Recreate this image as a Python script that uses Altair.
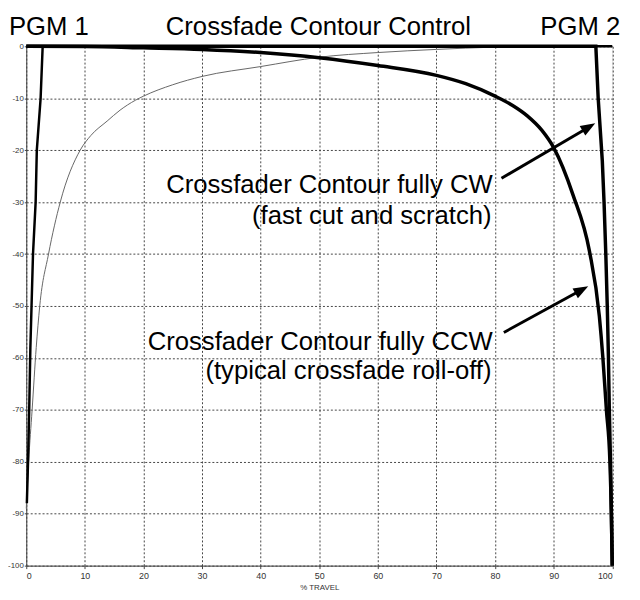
import altair as alt
import pandas as pd

# ---- data ----
cw1_x = [0.1, 0.3, 0.5, 0.7, 0.9, 1.15, 1.6, 1.8, 2.45, 2.8, 100]
cw1_y = [-88, -80, -70, -58, -50, -40, -30, -20, -10, 0, 0]

cw2_x = [0, 97.2, 97.6, 98.3, 98.6, 98.9, 99.15, 99.35, 99.5, 99.7, 99.85, 100]
cw2_y = [0, 0, -10, -22, -30, -40, -50, -60, -70, -80, -90, -100]

ccw1_x = [0, 0.4, 1.0, 1.7, 2.3, 3.8, 5.8, 9.2, 11, 13.8, 16, 18.6, 20, 25, 30, 40, 50, 60, 70, 75, 80, 85, 100]
ccw1_y = [-89, -80, -70, -58, -50, -40, -30, -20, -17.2, -14.4, -12.3, -10.4, -9.6, -7.4, -5.8, -3.9, -2.1, -1.2, -0.6, -0.35, -0.15, 0, 0]

ccw2_x = [0, 10, 20, 30, 40, 50, 60, 70, 75, 80, 83, 85.5, 88, 90, 93.3, 96.1, 97.8, 98.4, 99.0, 99.6, 99.85, 100]
ccw2_y = [0, -0.05, -0.3, -0.6, -1.2, -2.2, -3.7, -5.6, -7.2, -9.6, -11.4, -13.4, -16.2, -19.5, -28.6, -39.4, -52, -60, -70, -80, -90, -100]

x_ticks = list(range(0, 101, 10))
y_ticks = list(range(-100, 1, 10))

# headers (data coordinates)
head_text = ["PGM 1", "Crossfade Contour Control", "PGM 2"]
head_x = [-2.95, 49.85, 101.35]
head_y = [2.15, 2.15, 2.15]
head_align = ["left", "center", "right"]

ann_text = ["Crossfader Contour fully CW", "(fast cut and scratch)",
            "Crossfader Contour fully CCW", "(typical crossfade roll-off)"]
ann_x = [79.6, 79.4, 79.6, 79.4]
ann_y = [-28.3, -34.2, -58.4, -64.0]

arr_x1 = [81.1, 81.5]
arr_y1 = [-25.4, -55.1]
arr_x2 = [95.4, 94.1]
arr_y2 = [-15.96, -47.3]
tip_x = [97.1, 95.9]
tip_y = [-14.8, -46.2]
tip_angle = [329.4, 331.3]

FONT = "Liberation Sans"

xs = alt.Scale(domain=[0, 100], nice=False, zero=False)
ys = alt.Scale(domain=[-100, 0], nice=False, zero=False)

x_axis = alt.Axis(values=x_ticks, grid=True, gridDash=[2, 2], gridColor="#444",
                  gridOpacity=1, domainColor="#444", tickColor="#444", tickSize=3,
                  labelFontSize=9, labelColor="#333", labelFont=FONT, labelPadding=3,
                  title="% TRAVEL", titleFontSize=8, titleFontWeight="normal",
                  titleFont=FONT, titleColor="#333", titlePadding=3)
y_axis = alt.Axis(values=y_ticks, grid=True, gridDash=[2, 2], gridColor="#444",
                  gridOpacity=1, domainColor="#444", tickColor="#444", tickSize=2,
                  labelFontSize=8, labelColor="#333", labelFont=FONT, labelPadding=1,
                  labelExpr="'' + datum.value", title=None)

X = alt.X("x:Q", scale=xs, axis=x_axis, title="% TRAVEL")
Y = alt.Y("y:Q", scale=ys, axis=y_axis, title=None)


def series(xv, yv):
    return pd.DataFrame({"x": xv, "y": yv, "i": range(len(xv))})


def line(xv, yv, color, width, interp="linear"):
    return alt.Chart(series(xv, yv)).mark_line(
        color=color, strokeWidth=width, interpolate=interp).encode(
        x=X, y=Y, order="i:Q")


l_ccw1 = line(ccw1_x, ccw1_y, "#666", 1, "monotone")
l_cw1 = line(cw1_x, cw1_y, "#000", 2.5)
l_cw2 = line(cw2_x, cw2_y, "#000", 3.5)
l_ccw2 = line(ccw2_x, ccw2_y, "#000", 3.5, "monotone")

heads = alt.Chart(pd.DataFrame({"t": head_text, "x": head_x, "y": head_y, "a": head_align}))
head_layers = []
for a in ["left", "center", "right"]:
    head_layers.append(
        heads.transform_filter(alt.datum.a == a).mark_text(
            align=a, baseline="alphabetic", font=FONT, fontSize=26, color="#000").encode(
            x=X, y=Y, text="t:N"))

ann = alt.Chart(pd.DataFrame({"t": ann_text, "x": ann_x, "y": ann_y})).mark_text(
    align="right", baseline="alphabetic", font=FONT, fontSize=26, color="#000").encode(
    x=X, y=Y, text="t:N")

arrows = alt.Chart(pd.DataFrame({"x": arr_x1, "y": arr_y1, "x2": arr_x2, "y2": arr_y2})).mark_rule(
    color="#000", strokeWidth=3).encode(x=X, y=Y, x2="x2:Q", y2="y2:Q")

heads_pts = alt.Chart(pd.DataFrame({"x": tip_x, "y": tip_y, "ang": tip_angle})).mark_point(
    shape="M0,0 L-2,-0.75 L-2,0.75 Z", filled=True, color="#000", opacity=1, size=225,
    strokeWidth=0).encode(x=X, y=Y, angle=alt.Angle("ang:Q", scale=None))

chart = alt.layer(l_ccw1, l_cw1, l_cw2, l_ccw2, ann, arrows, heads_pts, *head_layers).properties(
    width=593.5, height=526,
    autosize=alt.AutoSizeParams(type="none"),
    padding={"left": 18.5, "top": 35, "right": 20, "bottom": 31},
).configure_view(stroke=None).configure(background="white")

chart.save("out.html", embed_options={"renderer": "svg", "actions": False})
